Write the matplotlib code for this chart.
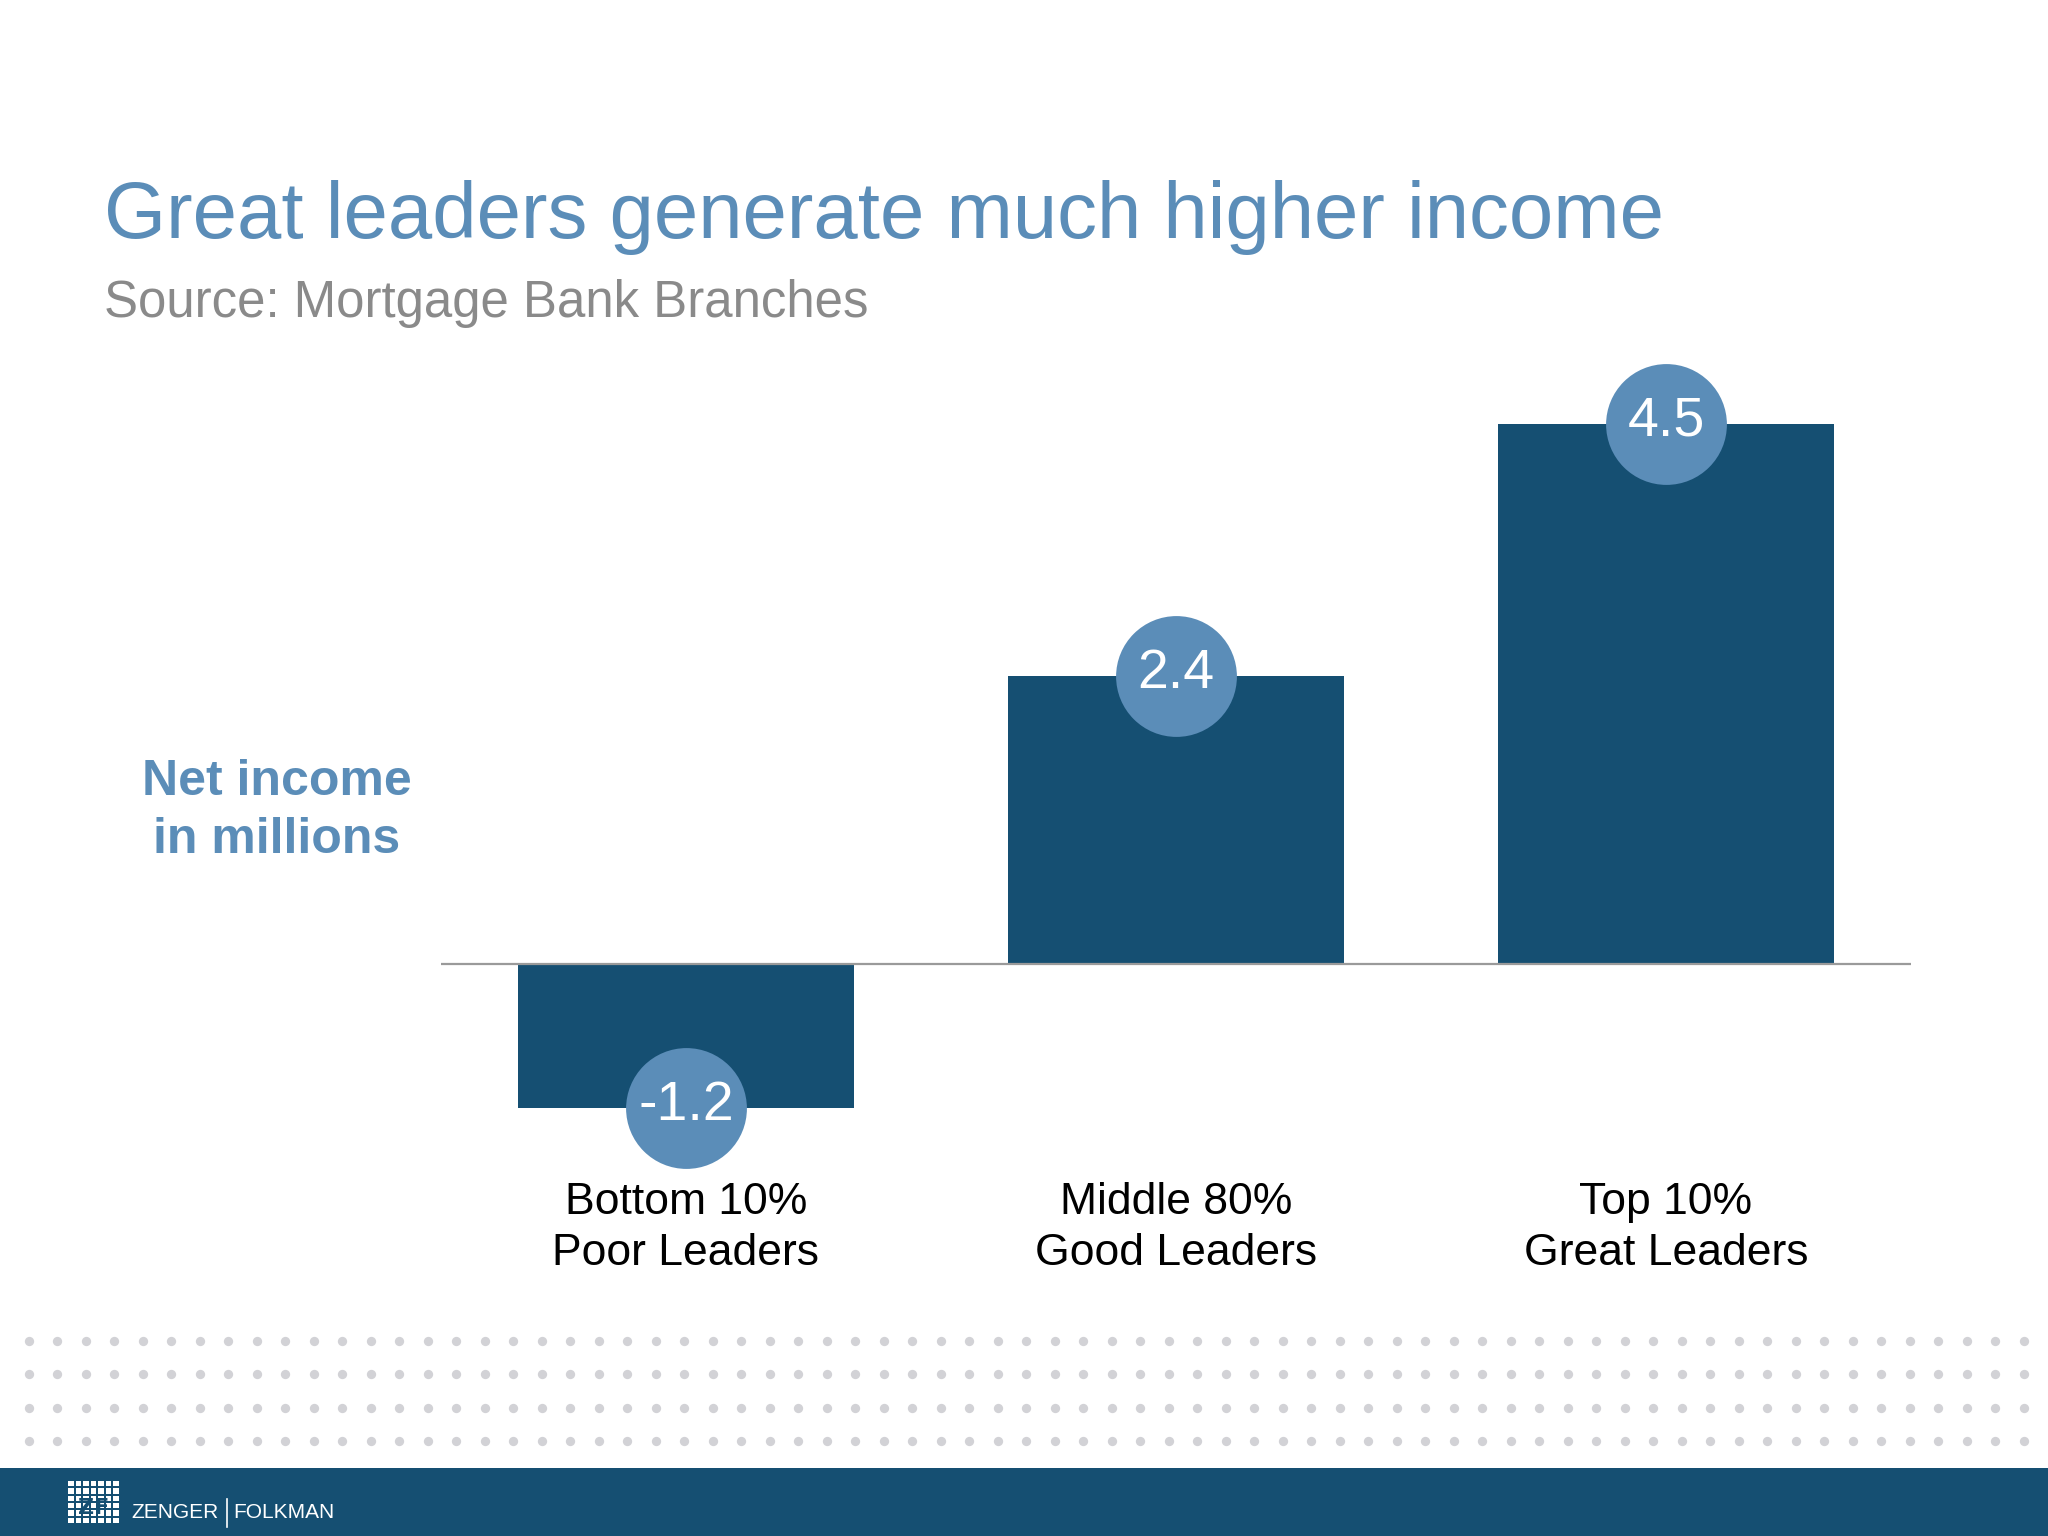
import numpy as np
import matplotlib
matplotlib.use("Agg")
import matplotlib.pyplot as plt
from matplotlib.patches import Rectangle

plt.rcParams['font.family'] = ['Liberation Sans', 'DejaVu Sans']

# data
groups = ["Bottom 10%\nPoor Leaders", "Middle 80%\nGood Leaders", "Top 10%\nGreat Leaders"]
income = [-1.2, 2.4, 4.5]
value_labels = ["-1.2", "2.4", "4.5"]

dark_blue = "#154f72"
light_blue = "#5b8db8"

W, H = 2048, 1536
fig = plt.figure(figsize=(W / 100, H / 100), dpi=100)
fig.patch.set_facecolor("white")

# background layer in pixel coords (dots, footer, logo)
bg = fig.add_axes([0, 0, 1, 1], zorder=-1)
bg.set_xlim(0, W)
bg.set_ylim(H, 0)
bg.axis("off")

dx = np.arange(28.5, 2030, 28.5)
dy = np.array([1341, 1374, 1408, 1441])
gx, gy = np.meshgrid(dx, dy)
bg.scatter(gx.ravel(), gy.ravel(), s=45, color="#d2d2d6", linewidths=0)

bg.add_patch(Rectangle((0, 1468), W, H - 1468, color=dark_blue, lw=0))
# little grid logo
for i in range(7):
    for j in range(6):
        bg.add_patch(Rectangle((68 + i * 7.5, 1481 + j * 7.3), 5.5, 5.3, color="white", lw=0))
bg.text(94, 1508, "ZF", color=dark_blue, fontsize=16, fontweight="bold",
        ha="center", va="center", family=["DejaVu Sans"])
bg.text(131, 1513, "ZENGER", color="white", fontsize=15, ha="left", va="center",
        family=["Liberation Sans"])
bg.plot([227, 227], [1499, 1527], color="white", lw=1.2)
bg.text(233, 1513, "FOLKMAN", color="white", fontsize=15, ha="left", va="center",
        family=["Liberation Sans"])

# main chart axes: x from px 441 to 1911, y from px 300 to 1165
top_px, bot_px, zero_px, ppu = 300, 1165, 964, 120.0
ax = fig.add_axes([441 / W, 1 - bot_px / H, 1470 / W, (bot_px - top_px) / H])
ax.set_facecolor("none")
ax.set_xlim(-0.5, 2.5)
ax.set_ylim(-(bot_px - zero_px) / ppu, (zero_px - top_px) / ppu)
for s in ax.spines.values():
    s.set_visible(False)
ax.set_yticks([])

x = np.arange(len(income))
ax.bar(x, income, width=336 / 490, color=dark_blue, zorder=2)
ax.axhline(0, color="#9a9a9a", lw=1.6, zorder=3)
ax.scatter(x, income, s=87 ** 2, color=light_blue, linewidths=0, zorder=4, clip_on=False)
for xi, v, lab in zip(x, income, value_labels):
    ax.text(xi, v + 0.02, lab, color="white", fontsize=40, ha="center", va="center",
            zorder=5, clip_on=False)

ax.set_xticks(x)
ax.set_xticklabels(groups, fontsize=32, color="black", linespacing=1.32)
ax.tick_params(axis="x", length=0, pad=12)

# titles and axis label
fig.text(104 / W, 1 - 238 / H, "Great leaders generate much higher income",
         color=light_blue, fontsize=57.4, ha="left", va="baseline")
fig.text(104 / W, 1 - 317 / H, "Source: Mortgage Bank Branches",
         color="#8a8a8a", fontsize=36.7, ha="left", va="baseline")
fig.text(277 / W, 1 - 811 / H, "Net income\nin millions", color=light_blue,
         fontsize=36, fontweight="bold", ha="center", va="center", linespacing=1.32)

fig.savefig("out.png", dpi=100)
